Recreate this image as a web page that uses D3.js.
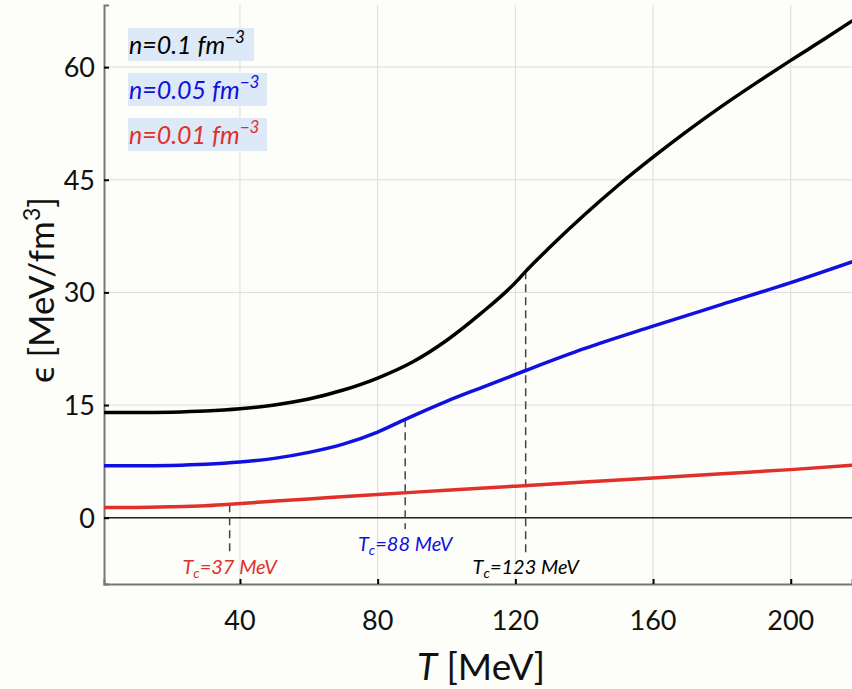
<!DOCTYPE html>
<html>
<head>
<meta charset="utf-8">
<script src="https://cdn.jsdelivr.net/npm/d3@7"></script>
<style>
  body { margin: 0; background: #fdfdf9; }
  svg { display: block; font-family: Lato, "Open Sans", sans-serif; }
</style>
</head>
<body>
<div id="chart"></div>
<script>
// temperature grid (MeV) and energy density (MeV/fm^3) for each density
var tBlack = [0, 10, 20, 30, 40, 50, 60, 70, 80, 90, 100, 110, 120, 123, 130, 140, 150, 160, 170, 180, 190, 200, 210, 218];
var eBlack = [14.0, 14.0, 14.05, 14.2, 14.5, 15.0, 15.8, 17.0, 18.6, 20.7, 23.6, 27.2, 31.3, 32.8, 36.0, 40.3, 44.3, 48.0, 51.5, 54.8, 57.9, 60.9, 63.8, 66.2];

var tBlue = [0, 10, 20, 30, 40, 50, 60, 70, 80, 88, 100, 110, 123, 140, 160, 180, 200, 218];
var eBlue = [6.9, 6.9, 6.95, 7.1, 7.4, 7.9, 8.7, 9.8, 11.4, 13.1, 15.5, 17.3, 19.6, 22.5, 25.5, 28.4, 31.3, 34.1];

var tRed = [0, 10, 20, 30, 37, 60, 80, 100, 120, 140, 160, 180, 200, 218];
var eRed = [1.35, 1.37, 1.45, 1.6, 1.8, 2.5, 3.1, 3.65, 4.2, 4.75, 5.3, 5.85, 6.4, 7.0];

var seriesNames = ["n=0.1 fm", "n=0.05 fm", "n=0.01 fm"];
var seriesColors = ["#000000", "#1010e0", "#e0302a"];
var critT = [123, 88, 37];
var critLabels = ["123", "88", "37"];

var xTicks = [40, 80, 120, 160, 200];
var yTicks = [0, 15, 30, 45, 60];

var W = 852, H = 689;
var margin = {left: 104, right: 0, top: 5, bottom: 105};
var plotW = W - margin.left - margin.right;
var plotH = H - margin.top - margin.bottom;

var svg = d3.select("#chart").append("svg")
  .attr("width", W)
  .attr("height", H);

svg.append("rect").attr("width", W).attr("height", H).attr("fill", "#fdfdf9");

var x = d3.scaleLinear().domain([0.5, 217.8]).range([margin.left, W - margin.right]);
var y = d3.scaleLinear().domain([-8.83, 68.27]).range([H - margin.bottom, margin.top]);

var g = svg.append("g");

// grid
g.selectAll(".vgrid").data(xTicks).enter().append("line")
  .attr("x1", function(d) { return x(d); }).attr("x2", function(d) { return x(d); })
  .attr("y1", y.range()[0]).attr("y2", y.range()[1])
  .attr("stroke", "#dcdcd8").attr("stroke-width", 1);
g.selectAll(".hgrid").data(yTicks).enter().append("line")
  .attr("x1", x.range()[0]).attr("x2", x.range()[1])
  .attr("y1", function(d) { return y(d); }).attr("y2", function(d) { return y(d); })
  .attr("stroke", "#dcdcd8").attr("stroke-width", 1);

// zero line
g.append("line")
  .attr("x1", x.range()[0]).attr("x2", x.range()[1])
  .attr("y1", y(0)).attr("y2", y(0))
  .attr("stroke", "#222").attr("stroke-width", 1.6);

// axes
var xAxis = svg.append("g")
  .attr("transform", "translate(0," + y.range()[0] + ")")
  .call(d3.axisTop(x).tickValues(xTicks).tickSize(5).tickFormat(""));
xAxis.select(".domain").attr("stroke", "#777").attr("stroke-width", 2);
xAxis.selectAll(".tick line").attr("stroke", "#000").attr("stroke-width", 2);

var yAxis = svg.append("g")
  .attr("transform", "translate(" + x.range()[0] + ",0)")
  .call(d3.axisRight(y).tickValues(yTicks).tickSize(5).tickFormat(""));
yAxis.select(".domain").attr("stroke", "#777").attr("stroke-width", 2);
yAxis.selectAll(".tick line").attr("stroke", "#000").attr("stroke-width", 2);

// tick labels
svg.selectAll(".xlab").data(xTicks).enter().append("text")
  .attr("x", function(d) { return x(d); })
  .attr("y", 630)
  .attr("text-anchor", "middle")
  .attr("font-size", 27)
  .attr("fill", "#111")
  .text(function(d) { return d; });
svg.selectAll(".ylab").data(yTicks).enter().append("text")
  .attr("x", 95)
  .attr("y", function(d) { return y(d) + 10; })
  .attr("text-anchor", "end")
  .attr("font-size", 27)
  .attr("fill", "#111")
  .text(function(d) { return d; });

// axis titles
var xt = svg.append("text")
  .attr("x", 481).attr("y", 680)
  .attr("text-anchor", "middle")
  .attr("font-size", 37)
  .attr("fill", "#111");
xt.append("tspan").attr("font-style", "italic").text("T");
xt.append("tspan").text(" [MeV]");

var yt = svg.append("text")
  .attr("transform", "translate(54,290) rotate(-90)")
  .attr("text-anchor", "middle")
  .attr("font-size", 35)
  .attr("fill", "#111");
yt.append("tspan").text("\u03F5  [MeV/fm");
yt.append("tspan").attr("font-size", 23).attr("dy", -14).text("3");
yt.append("tspan").attr("dy", 14).text("]");

// curves
var line = d3.line()
  .x(function(d) { return x(d[0]); })
  .y(function(d) { return y(d[1]); })
  .curve(d3.curveMonotoneX);

var curves = [d3.zip(tBlack, eBlack), d3.zip(tBlue, eBlue), d3.zip(tRed, eRed)];

svg.append("clipPath").attr("id", "clip")
  .append("rect").attr("x", x.range()[0]).attr("y", y.range()[1])
  .attr("width", plotW).attr("height", plotH);

// dashed Tc markers
var tcEnd = [553, 529, 552];
curves.forEach(function(c, i) {
  var tc = critT[i];
  var pt = c.find(function(p) { return p[0] === tc; });
  svg.append("line")
    .attr("x1", x(tc)).attr("x2", x(tc))
    .attr("y1", y(pt[1])).attr("y2", tcEnd[i])
    .attr("stroke", "#444").attr("stroke-width", 1.5)
    .attr("stroke-dasharray", "8,5");
});

svg.append("g").attr("clip-path", "url(#clip)")
  .selectAll("path").data(curves).enter().append("path")
  .attr("d", line)
  .attr("fill", "none")
  .attr("stroke", function(d, i) { return seriesColors[i]; })
  .attr("stroke-width", 3.5);

// Tc labels
var tcLabelY = [574, 551, 574];
critT.forEach(function(tc, i) {
  var t = svg.append("text")
    .attr("x", x(tc)).attr("y", tcLabelY[i])
    .attr("text-anchor", "middle")
    .attr("font-size", 20)
    .attr("font-style", "italic")
    .attr("fill", seriesColors[i]);
  t.append("tspan").text("T");
  t.append("tspan").attr("font-size", 14).attr("dy", 4).text("c");
  t.append("tspan").attr("dy", -4).text("=" + critLabels[i] + " MeV");
});

// legend
var legendTop = [28, 73, 118];
var legendW = [126, 139, 139];
seriesNames.forEach(function(name, i) {
  svg.append("rect")
    .attr("x", 128).attr("y", legendTop[i])
    .attr("width", legendW[i]).attr("height", 33)
    .attr("fill", "#dde9f6");
  var t = svg.append("text")
    .attr("x", 129).attr("y", legendTop[i] + 26)
    .attr("font-size", 25)
    .attr("font-style", "italic")
    .attr("fill", seriesColors[i]);
  t.append("tspan").text(name);
  t.append("tspan").attr("font-size", 17).attr("dy", -11).text("\u22123");
});
</script>
</body>
</html>
